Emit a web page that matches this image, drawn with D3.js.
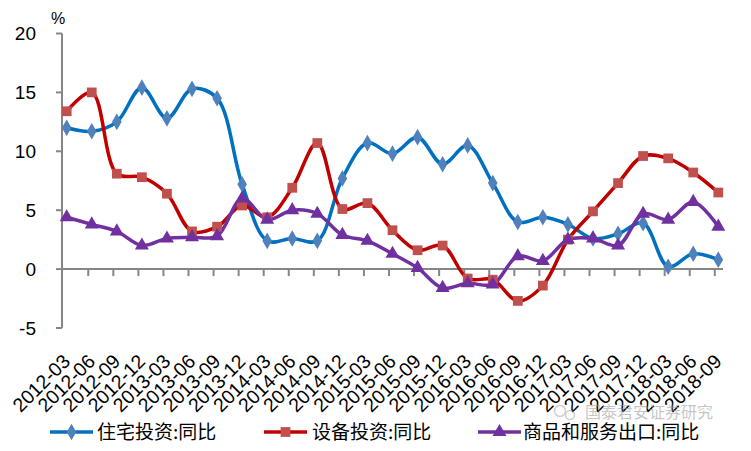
<!DOCTYPE html>
<html><head><meta charset="utf-8">
<script src="https://cdn.jsdelivr.net/npm/d3@7"></script>
<style>body{margin:0;background:#fff}svg{display:block}</style>
</head><body><svg id="c" width="751" height="451"></svg>
<script>
const categories = ["2012-03","2012-06","2012-09","2012-12","2013-03","2013-06","2013-09","2013-12","2014-03","2014-06","2014-09","2014-12","2015-03","2015-06","2015-09","2015-12","2016-03","2016-06","2016-09","2016-12","2017-03","2017-06","2017-09","2017-12","2018-03","2018-06","2018-09"];
const housing = [12.0,11.7,12.5,15.4,12.8,15.3,14.5,7.2,2.4,2.6,2.4,7.7,10.7,9.8,11.2,8.9,10.5,7.3,4.0,4.4,3.8,2.6,3.0,3.9,0.2,1.3,0.8];
const equipment = [13.4,15.0,8.1,7.8,6.4,3.2,3.6,5.4,4.4,6.9,10.7,5.1,5.6,3.3,1.6,2.0,-0.8,-0.9,-2.7,-1.4,2.5,4.9,7.3,9.6,9.4,8.2,6.5];
const exports_ = [4.4,3.8,3.2,2.0,2.6,2.7,2.8,6.0,4.2,5.0,4.7,2.9,2.4,1.3,0.1,-1.6,-1.2,-1.3,1.1,0.7,2.5,2.6,2.0,4.7,4.2,5.7,3.6];
const yTicks = [-5,0,5,10,15,20];
const seriesNames = ["住宅投资:同比","设备投资:同比","商品和服务出口:同比"];

const svg = d3.select("#c");
const x = d3.scalePoint().domain(categories).range([66.7, 718.3]);
const y = d3.scaleLinear().domain([-5,20]).range([328, 33.5]);
const axisColor = "#868686";
const tickOff = -3.5;

// y axis
const gy = svg.append("g").attr("transform","translate(62,0)");
gy.append("line").attr("y1",y(20)).attr("y2",y(-5)).attr("stroke",axisColor).attr("stroke-width",2);
gy.selectAll(".yt").data(yTicks).enter().append("line")
  .attr("x1",-6).attr("x2",0).attr("y1",d=>y(d)).attr("y2",d=>y(d)).attr("stroke",axisColor).attr("stroke-width",2);
gy.selectAll(".yl").data(yTicks).enter().append("text")
  .attr("x",-26).attr("y",d=>y(d)).attr("dy","0.36em").attr("text-anchor","end")
  .attr("font-family","Liberation Sans, Arial, sans-serif").attr("font-size",19).text(d=>d);
svg.append("text").attr("x",58).attr("y",24).attr("text-anchor","middle")
  .attr("font-family","Liberation Sans, Arial, sans-serif").attr("font-size",16).text("%");

// x axis at 0
const gx = svg.append("g");
gx.append("line").attr("x1",62).attr("x2",723).attr("y1",y(0)).attr("y2",y(0)).attr("stroke",axisColor).attr("stroke-width",2);
gx.selectAll(".xt").data(categories.slice(1)).enter().append("line")
  .attr("x1",d=>x(d)+tickOff).attr("x2",d=>x(d)+tickOff).attr("y1",y(0)).attr("y2",y(0)+7)
  .attr("stroke",axisColor).attr("stroke-width",2);
gx.selectAll(".xl").data(categories).enter().append("text")
  .attr("transform",d=>`translate(${x(d)-5},${353}) rotate(-45)`)
  .attr("text-anchor","end").attr("dy","0.7em")
  .attr("font-family","Liberation Sans, Arial, sans-serif").attr("font-size",19.5).text(d=>d);

const series = [
  {name:seriesNames[0], data:housing, line:"#0070C0", mark:"#4F81BD", sym:d3.symbolDiamond, size:80},
  {name:seriesNames[1], data:equipment, line:"#C00000", mark:"#C0504D", sym:d3.symbolSquare, size:95},
  {name:seriesNames[2], data:exports_, line:"#7030A0", mark:"#7030A0", sym:d3.symbolTriangle, size:85}
];
const lineGen = d3.line().x((d,i)=>x(categories[i])).y(d=>y(d)).curve(d3.curveCatmullRom.alpha(0.5));
series.forEach(s=>{
  svg.append("path").datum(s.data).attr("d",lineGen).attr("fill","none").attr("stroke",s.line).attr("stroke-width",3.5);
});
series.forEach(s=>{
  svg.selectAll(null).data(s.data).enter().append("path")
    .attr("transform",(d,i)=>`translate(${x(categories[i])},${y(d)})`)
    .attr("d",d3.symbol().type(s.sym).size(s.size)).attr("fill",s.mark);
});

// legend
const leg = [{x:50,tx:97},{x:264,tx:312},{x:478,tx:523}];
series.forEach((s,i)=>{
  const g = svg.append("g").attr("transform",`translate(0,432)`);
  g.append("line").attr("x1",leg[i].x).attr("x2",leg[i].x+43).attr("stroke",s.line).attr("stroke-width",3.5);
  g.append("path").attr("transform",`translate(${leg[i].x+21.5},0)`).attr("d",d3.symbol().type(s.sym).size(s.size)).attr("fill",s.mark);
  g.append("text").attr("x",leg[i].tx).attr("dy","0.36em").attr("font-family","Noto Sans CJK SC, sans-serif").attr("font-size",19).text(s.name);
});

// watermark
const wm = svg.append("g").attr("opacity",0.55);
wm.append("circle").attr("cx",560).attr("cy",411).attr("r",5.5).attr("fill","none").attr("stroke","#aaa").attr("stroke-width",1.5);
wm.append("circle").attr("cx",570).attr("cy",415).attr("r",4.5).attr("fill","none").attr("stroke","#aaa").attr("stroke-width",1.5);
wm.append("text").attr("x",585).attr("y",412).attr("dy","0.36em").attr("font-family","Noto Sans CJK SC, sans-serif").attr("font-size",16).attr("fill","#999").text("国泰君安证券研究");
</script></body></html>
